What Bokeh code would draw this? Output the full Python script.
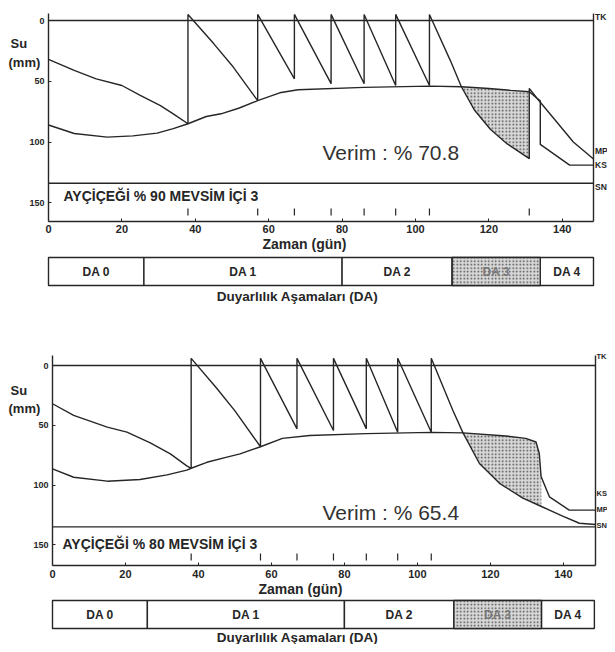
from bokeh.plotting import figure
from bokeh.models import Range1d, Label, LinearAxis, FixedTicker
from bokeh.layouts import column
from bokeh.embed import file_html
from bokeh.resources import INLINE

# ---------------- data ----------------
x_ticks = [0, 20, 40, 60, 80, 100, 120, 140]
y_ticks = [0, 50, 100, 150]
tk_level = 0

# top panel (90 %)
top_dep_days = [0, 7, 13, 20, 25, 30.5, 34, 38, 38, 45, 50, 57, 57, 67, 67, 77, 77, 86, 86,
                94.6, 94.6, 103.8, 103.8, 109.5, 112.5, 116, 120.4, 125, 131, 131, 133.1,
                138.6, 143, 148.5]
top_dep_mm = [32, 41, 48, 53.5, 61.7, 70, 76.8, 85, -5, 19, 37, 66, -5, 48, -5, 52, -5, 52, -5,
              53.5, -5, 53.5, -5, 33, 54.5, 73.4, 89.5, 101.6, 113.7, 56, 64,
              84, 100, 114]
top_raw_days = [0, 7, 16, 23, 29.6, 34, 38, 43, 47, 52, 57, 63, 68, 86, 104, 112.5, 120, 126,
                131, 133.1, 134, 134, 142, 148.5]
top_raw_mm = [86, 93, 96, 95, 92.7, 89, 85, 79, 76.8, 72, 66, 59.5, 57, 55, 54, 54.5, 56, 57.5,
              58.6, 64, 66, 102, 119, 119]
top_irrig_days = [38, 57, 67, 77, 86, 94.6, 103.8, 131]
top_stress = [112.5, 131]
top_sn = 134
top_crop = "AYÇİÇEĞİ % 90 MEVSİM İÇİ 3"
top_yield = "Verim : % 70.8"
top_side_labels = ["TK", "MP", "KS", "SN"]

# bottom panel (80 %)
bot_dep_days = [0, 5.8, 15, 20.4, 26.8, 32.3, 36.8, 38, 38, 45, 50, 57, 57, 67, 67, 77, 77, 86, 86,
                94.6, 94.6, 103.8, 103.8, 109.7, 112.5, 117, 122.5, 128.9, 134, 139.8, 144.4, 148.8]
bot_dep_mm = [32, 41.8, 51.6, 55.8, 64.7, 74, 84, 86, -6, 19, 38, 68, -6, 53, -6, 54.4, -6, 53, -6,
              55.8, -6, 55.8, -6, 37.5, 56.4, 82, 98.6, 111, 118, 126, 132, 133]
bot_raw_days = [0, 5.8, 15, 24, 31.4, 36.8, 38, 42.3, 47.8, 51.4, 57, 63, 70.5, 86, 104, 112.5,
                124.3, 129.7, 132.5, 133.4, 133.9, 136.2, 141.6, 148.8]
bot_raw_mm = [86.5, 93.5, 96.8, 95.4, 91.5, 87.5, 86, 81, 76.7, 74, 68, 61, 58.6, 57, 56, 56.4,
              59, 61, 64, 73.6, 93, 110, 121, 121]
bot_irrig_days = [38, 57, 67, 77, 86, 94.6, 103.8]
bot_stress = [112.5, 134]
bot_sn = 135
bot_crop = "AYÇİÇEĞİ % 80 MEVSİM İÇİ 3"
bot_yield = "Verim : % 65.4"
bot_side_labels = ["TK", "KS", "MP", "SN"]

# sensitivity stages
stage_names = ["DA 0", "DA 1", "DA 2", "DA 3", "DA 4"]
stage_start = [0, 26, 80, 110, 134]
stage_end = [26, 80, 110, 134, 148.5]
shaded_stage = 3

x_title = "Zaman (gün)"
y_title = ["Su", "(mm)"]
stage_title = "Duyarlılık Aşamaları (DA)"

# ---------------- layout (picture pixels) ----------------
INK = "#262626"
FONT = "Liberation Sans"
LW = 1.4
PAGE_L, PAGE_R = 0, 607

top_geo = dict(x0=48, sx=3.670, y0=20, sy=1.215, top=0, bottom=305,
               x_end=148.5, y_min=-5.8, y_max=165.4,
               su=(10, 43), mm=(8, 62), crop=(63, 195), yld=(322, 152),
               side_x=594.5, side_fs="8.5px", side_y=[16, 150, 164, 186], zaman=(304, 243),
               tick=(208, 215), box=(257, 285), da_title=(297, 296))
bot_geo = dict(x0=52, sx=3.649, y0=365, sy=1.195, top=305, bottom=644,
               x_end=148.8, y_min=-8.4, y_max=167.4,
               su=(10, 390), mm=(8, 408), crop=(62, 543), yld=(322, 512),
               side_x=596, side_fs="7.5px", side_y=[356, 493, 509, 525], zaman=(300, 588),
               tick=(553, 560), box=(600, 628), da_title=(297, 637))


def fx(px, g):
    return (px - g["x0"]) / g["sx"]


def fy(py, g):
    return (py - g["y0"]) / g["sy"]


def txt(p, x, y, text, size, bold=True, align="left", color=INK):
    p.add_layout(Label(x=x, y=y, text=text, text_font=FONT,
                       text_font_style="bold" if bold else "normal",
                       text_font_size=size, text_color=color,
                       text_baseline="middle", text_align=align))


def panel(g, dep_d, dep_m, raw_d, raw_m, irrig, stress, sn, crop, yld, side_lab):
    p = figure(width=PAGE_R - PAGE_L, height=g["bottom"] - g["top"],
               x_range=Range1d(fx(PAGE_L, g), fx(PAGE_R, g)),
               y_range=Range1d(fy(g["bottom"], g), fy(g["top"], g)),
               min_border=0, output_backend="svg", toolbar_location=None,
               x_axis_location=None, y_axis_location=None,
               background_fill_color="white", border_fill_color="white")
    p.outline_line_color = None
    p.xgrid.visible = False
    p.ygrid.visible = False
    x_end, y_min, y_max = g["x_end"], g["y_min"], g["y_max"]

    def style(ax, fs):
        ax.major_tick_in = 3
        ax.major_tick_out = 0
        ax.minor_tick_line_color = None
        ax.axis_line_width = LW
        ax.axis_line_color = INK
        ax.major_tick_line_color = INK
        ax.major_label_text_font = FONT
        ax.major_label_text_font_style = "bold"
        ax.major_label_text_font_size = fs
        ax.major_label_text_color = INK
        ax.major_label_standoff = 4

    xa = LinearAxis(ticker=FixedTicker(ticks=x_ticks), fixed_location=y_max, bounds=(0, x_end))
    style(xa, "11px")
    p.add_layout(xa, "below")
    ya = LinearAxis(ticker=FixedTicker(ticks=y_ticks), fixed_location=0, bounds=(y_min, y_max))
    style(ya, "9px")
    p.add_layout(ya, "left")
    ra = LinearAxis(ticker=FixedTicker(ticks=[]), fixed_location=x_end, bounds=(y_min, y_max),
                    major_tick_in=0, major_tick_out=0, minor_tick_in=0, minor_tick_out=0,
                    major_label_text_font_size="0px", axis_line_width=LW, axis_line_color=INK)
    p.add_layout(ra, "right")

    # field capacity and wilting-point lines
    p.segment(x0=[0, 0], x1=[x_end, x_end], y0=[tk_level, sn], y1=[tk_level, sn],
              line_color=INK, line_width=LW)

    # stress (shaded) area
    i0 = dep_d.index(stress[0])
    i1 = dep_d.index(stress[1])
    j = [k for k, d in enumerate(raw_d) if stress[0] <= d <= stress[1]]
    xs = [raw_d[k] for k in j] + dep_d[i0:i1 + 1][::-1]
    ys = [raw_m[k] for k in j] + dep_m[i0:i1 + 1][::-1]
    p.patch(xs, ys, fill_color="#d8d8d8", hatch_pattern="dot", hatch_color="#4a4a4a",
            hatch_scale=3.5, hatch_weight=1, line_color=None)

    p.line(raw_d, raw_m, line_color=INK, line_width=LW)
    p.line(dep_d, dep_m, line_color=INK, line_width=LW)

    # irrigation marks
    n = len(irrig)
    t0, t1 = fy(g["tick"][0], g), fy(g["tick"][1], g)
    p.segment(x0=irrig, x1=irrig, y0=[t0] * n, y1=[t1] * n, line_color=INK, line_width=1.2)

    # texts
    txt(p, fx(g["su"][0], g), fy(g["su"][1], g), y_title[0], "13px")
    txt(p, fx(g["mm"][0], g), fy(g["mm"][1], g), y_title[1], "13px")
    txt(p, fx(g["crop"][0], g), fy(g["crop"][1], g), crop, "14px")
    txt(p, fx(g["yld"][0], g), fy(g["yld"][1], g), yld, "21px", bold=False, color="#333333")
    for t, py in zip(side_lab, g["side_y"]):
        txt(p, fx(g["side_x"], g), fy(py, g), t, g["side_fs"])
    txt(p, fx(g["zaman"][0], g), fy(g["zaman"][1], g), x_title, "14px", align="center")

    # sensitivity stage strip
    b0, b1 = fy(g["box"][0], g), fy(g["box"][1], g)
    p.quad(left=stage_start, right=stage_end, bottom=b1, top=b0, fill_color="white",
           line_color=INK, line_width=LW)
    k = shaded_stage
    p.quad(left=[stage_start[k]], right=[stage_end[k]], bottom=b1, top=b0,
           fill_color="#d8d8d8", hatch_pattern="dot", hatch_color="#4a4a4a",
           hatch_scale=3.5, hatch_weight=1, line_color=INK, line_width=LW)
    for i, name in enumerate(stage_names):
        txt(p, (stage_start[i] + stage_end[i]) / 2, (b0 + b1) / 2, name, "12px",
            align="center", color="#777777" if i == k else INK)
    txt(p, fx(g["da_title"][0], g), fy(g["da_title"][1], g), stage_title, "13.5px",
        align="center")
    return p


p1 = panel(top_geo, top_dep_days, top_dep_mm, top_raw_days, top_raw_mm, top_irrig_days,
           top_stress, top_sn, top_crop, top_yield, top_side_labels)
p2 = panel(bot_geo, bot_dep_days, bot_dep_mm, bot_raw_days, bot_raw_mm, bot_irrig_days,
           bot_stress, bot_sn, bot_crop, bot_yield, bot_side_labels)

layout = column(p1, p2, spacing=0)
open("out.html", "w").write(file_html(layout, INLINE))
